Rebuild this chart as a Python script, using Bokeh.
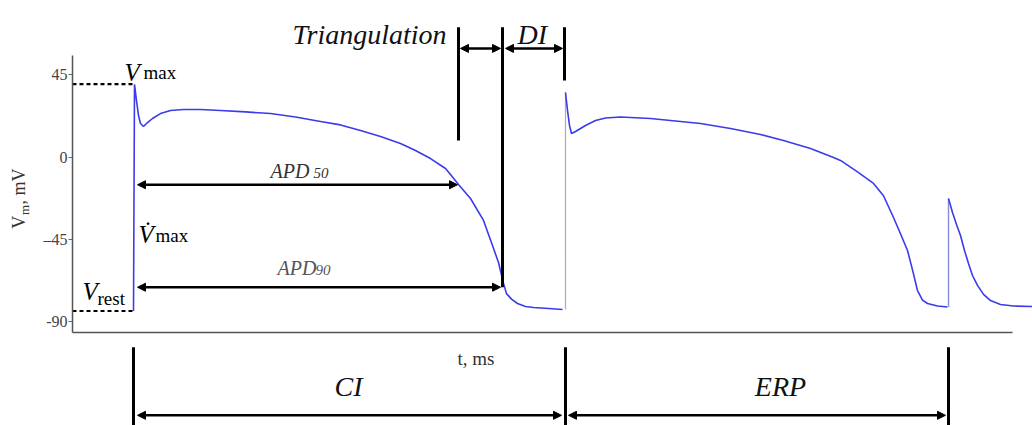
from bokeh.plotting import figure
from bokeh.models import Range1d, LinearAxis, FixedTicker, Arrow, NormalHead
from bokeh.core.properties import value
from bokeh.embed import file_html
from bokeh.resources import INLINE
import math

# ---- membrane potential traces (t in ms, V in mV) ----
ap1_t = [0, 1, 3, 5, 7, 10, 14, 19, 27, 37, 50, 67, 87, 112, 137, 162, 187,
         207, 227, 247, 267, 282, 297, 312, 317, 325, 337, 350, 359, 365, 370,
         373, 378, 384, 392, 400, 415, 429]
ap1_v = [-84, 39.8, 31, 22.8, 18.5, 16.8, 19, 21.2, 23.9, 25.6, 26.1, 26.1,
         25.6, 24.8, 23.9, 22, 19.6, 17.7, 14.6, 11.4, 7.5, 3.7, -0.7, -6.1,
         -9.4, -14.9, -22.5, -34.5, -48.2, -57.5, -68.9, -74.5, -77.5, -79.9,
         -81.5, -82.1, -82.6, -83.2]

up2_t = [432, 432]
up2_v = [-83.2, 35.4]
ap2_t = [432, 434, 436, 438, 442, 452, 462, 472, 487, 517, 567, 597, 627, 650,
         677, 700, 707, 724, 740, 750, 760, 767, 774, 779, 784, 789, 794, 804,
         814]
ap2_v = [35.4, 25.6, 17.4, 13, 14.1, 17.4, 20.1, 21.5, 22, 21.2, 18.5, 15.7,
         12.5, 9.2, 4.8, -0.1, -1.7, -8, -14.3, -21, -32.9, -41.8, -50.9, -61.5,
         -72.8, -78, -79.9, -81.3, -81.8]

up3_t = [815, 815]
up3_v = [-81.8, -22.5]
ap3_t = [815, 819, 823, 827, 831, 835, 839, 844, 850, 857, 867, 880, 899]
ap3_v = [-22.5, -30.2, -36.7, -42.7, -50.9, -58, -64.6, -70, -74.9, -78.3,
         -80.4, -81.3, -81.5]

# characteristic times / levels
t_stim1, t_stim2, t_stim3 = 0, 432, 815
t_apd50, t_apd90, t_di_end = 325, 369, 431
v_max, v_rest = 40, -84
v_apd50, v_apd90 = -15, -71

y_ticks = [45, 0, -45, -90]
y_tick_labels = {45: "45", 0: "0", -45: "\u201345", -90: "-90"}

FONT = "Liberation Serif"
BLUE = "#3b3bec"
MV_PER_PX = 1 / 1.83   # vertical data units per screen pixel
MS_PER_PX = 1.0        # horizontal data units per screen pixel

p = figure(width=1032, height=425, output_backend="svg", toolbar_location=None,
           x_range=Range1d(-133, 899), y_range=Range1d(-146.56, 85.68),
           x_axis_type=None, y_axis_type=None, min_border=0)
p.outline_line_color = None
p.xgrid.visible = False
p.ygrid.visible = False
p.background_fill_color = "white"
p.border_fill_color = "white"

# axes
yax = LinearAxis(ticker=FixedTicker(ticks=y_ticks), fixed_location=-61,
                 bounds=(-95.7, 55.6))
yax.major_label_overrides = y_tick_labels
yax.axis_line_color = "#555555"
yax.axis_line_width = 1.5
yax.major_tick_line_color = "#666666"
yax.major_tick_out = 4
yax.major_tick_in = 0
yax.minor_tick_line_color = None
yax.major_label_text_font = FONT
yax.major_label_text_font_size = "16px"
yax.major_label_text_color = "#444444"
yax.major_label_standoff = 1
p.add_layout(yax, "left")

xax = LinearAxis(ticker=FixedTicker(ticks=[]), fixed_location=-95.7,
                 bounds=(-61, 879))
xax.axis_line_color = "#555555"
xax.axis_line_width = 1.5
xax.major_tick_line_color = None
xax.minor_tick_line_color = None
xax.major_label_text_font_size = "0px"
p.add_layout(xax, "below")

# traces
p.line(ap1_t, ap1_v, line_color=BLUE, line_width=1.6)
p.line(up2_t, up2_v, line_color="#a9a9cf", line_width=1.2)
p.line(ap2_t, ap2_v, line_color=BLUE, line_width=1.6)
p.line(up3_t, up3_v, line_color="#8c8cdc", line_width=1.4)
p.line(ap3_t, ap3_v, line_color=BLUE, line_width=1.6)

# dashed reference levels
p.line([-61, t_stim1], [v_max, v_max], line_color="black", line_width=2.2,
       line_dash="4 3")
p.line([-61, t_stim1], [v_rest, v_rest], line_color="black", line_width=2.2,
       line_dash="4 3")

# marker bars
bars = [
    (t_apd50, 71, 9.2),
    (t_apd90, 71, v_apd90),
    (t_di_end, 71, 42),
    (t_stim1, -103.8, -146.6),
    (t_stim2, -103.8, -146.6),
    (t_stim3, -103.8, -146.6),
]
for bx, y0, y1 in bars:
    p.line([bx, bx], [y0, y1], line_color="black", line_width=3)


def dbl_arrow(x0, x1, y):
    p.add_layout(Arrow(
        start=NormalHead(size=8, fill_color="black", line_color="black"),
        end=NormalHead(size=8, fill_color="black", line_color="black"),
        x_start=x0, x_end=x1, y_start=y, y_end=y,
        line_color="black", line_width=2.5))


dbl_arrow(t_apd50 + 2, t_apd90 - 2, 59.5)
dbl_arrow(t_apd90 + 3, t_di_end - 2, 59.5)
dbl_arrow(t_stim1 + 4, t_apd50 - 1, v_apd50)
dbl_arrow(t_stim1 + 4, t_apd90 - 2, v_apd90)
dbl_arrow(t_stim1 + 4, t_stim2 - 4, -141)
dbl_arrow(t_stim2 + 3, t_stim3 - 3, -141)


def label(x, y, s, size, style="normal", color="black", align="left", angle=0.0):
    # (x, y) is the intended baseline anchor; the glyph is lifted by a fixed
    # fraction of the font size so the alphabetic baseline lands on it
    lift = 0.37 * size
    if angle:
        x = x - lift * MS_PER_PX
    else:
        y = y + lift * MV_PER_PX
    p.text(x=[x], y=[y], text=[s], text_font=value(FONT),
           text_font_size=f"{size}px", text_font_style=style,
           text_color=color, text_align=align, text_baseline="alphabetic",
           angle=angle)


label(313, 61.5, "Triangulation", 28, "italic", "#111111", "right")
label(384, 61.5, "DI", 28, "italic", "#111111")

label(-9, 41.5, "V", 25, "italic")
label(10, 42.5, "max", 19)
label(5, -47, "V\u0307", 25, "italic")
label(22, -46.5, "max", 19)
label(-51, -78.2, "V", 25, "italic")
label(-36, -81, "rest", 19)

label(137, -11.6, "APD", 20, "italic", "#333333")
label(180, -11.6, "50", 15, "italic", "#333333")
label(144, -64.6, "APD", 20, "italic", "#555555")
label(182, -64.6, "90", 15, "italic", "#555555")

label(215, -130.8, "CI", 28, "italic", "#111111", "center")
label(647, -130.8, "ERP", 28, "italic", "#111111", "center")
label(324, -113.7, "t, ms", 19, "normal", "#333333")

# rotated y-axis title: V_m, mV
half_pi = math.pi / 2
label(-108, -39, "V", 18, "normal", "#333333", angle=half_pi)
label(-104, -31.6, "m", 13, "normal", "#333333", angle=half_pi)
label(-108, -25.8, ", mV", 18, "normal", "#333333", angle=half_pi)

open("out.html", "w").write(file_html(p, INLINE))
